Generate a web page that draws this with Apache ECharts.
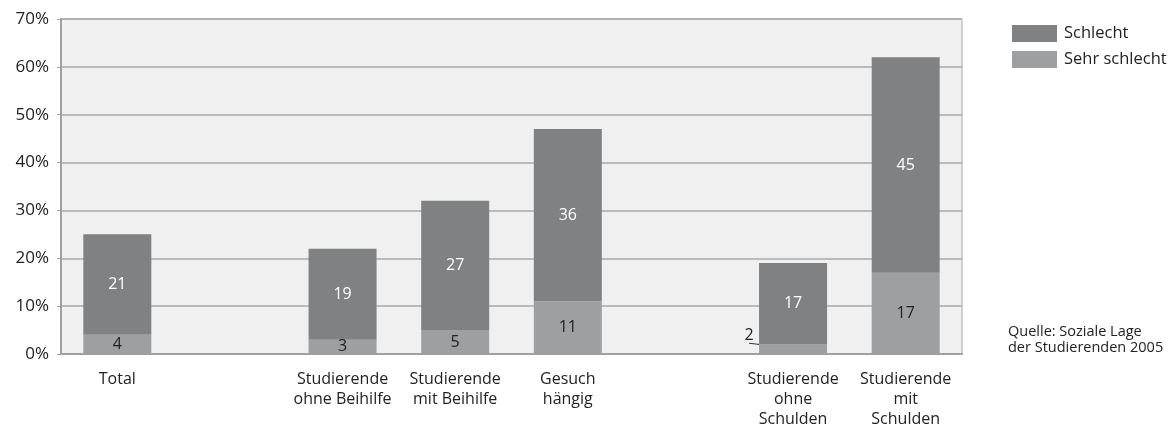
<!DOCTYPE html>
<html><head><meta charset="utf-8">
<script src="https://cdn.jsdelivr.net/npm/echarts@6/dist/echarts.min.js"></script>
<style>html,body{margin:0;padding:0;background:#fff}#c{width:1170px;height:429px}</style>
</head><body><div id="c"></div>
<script>
const categories = ['Total', '', 'Studierende\nohne Beihilfe', 'Studierende\nmit Beihilfe', 'Gesuch\nhängig', '', 'Studierende\nohne\nSchulden', 'Studierende\nmit\nSchulden'];
const sehrSchlecht = [4, null, 3, 5, 11, null, 2, 17];
const schlecht = [21, null, 19, 27, 36, null, 17, 45];
const yTicks = [0, 10, 20, 30, 40, 50, 60, 70];
const FONT = '"Open Sans", "Noto Sans", sans-serif';

const chart = echarts.init(document.getElementById('c'), null, {renderer: 'canvas'});
chart.setOption({
  animation: false,
  textStyle: {fontFamily: FONT},
  grid: {left: 61, right: 208, top: 19, bottom: 75, show: true, backgroundColor: '#eff0ef', borderColor: '#a8a8a8', borderWidth: 1},
  legend: {
    data: ['Schlecht', 'Sehr schlecht'], orient: 'vertical', left: 1007, top: 20,
    itemWidth: 45, itemHeight: 17, itemGap: 9, icon: 'rect',
    textStyle: {fontSize: 16.5, color: '#222', fontFamily: FONT, padding: [0, 0, 0, 2]}
  },
  xAxis: {
    type: 'category', data: categories,
    axisLine: {lineStyle: {color: '#a0a0a0', width: 2}},
    axisTick: {show: false},
    axisLabel: {fontSize: 16, color: '#222', interval: 0, lineHeight: 20, margin: 15, fontFamily: FONT}
  },
  yAxis: {
    type: 'value', min: yTicks[0], max: yTicks[yTicks.length - 1], interval: 10,
    axisLine: {show: true, lineStyle: {color: '#a0a0a0', width: 2}},
    axisTick: {show: true, length: 4, lineStyle: {color: '#a0a0a0', width: 1}},
    axisLabel: {fontSize: 17, color: '#222', formatter: '{value}%', margin: 12, fontFamily: FONT},
    splitLine: {lineStyle: {color: '#a8a8a8', width: 1.5}}
  },
  series: [
    {name: 'Sehr schlecht', type: 'bar', stack: 's', data: sehrSchlecht, barWidth: 68,
      itemStyle: {color: '#9e9fa1'},
      label: {show: true, position: 'inside', color: '#222', fontSize: 16, fontFamily: FONT},
      labelLine: {show: true, lineStyle: {color: '#333', width: 1}},
      labelLayout: function (p) { return p.dataIndex === 6 ? {dx: -44, dy: -14} : {}; }},
    {name: 'Schlecht', type: 'bar', stack: 's', data: schlecht, barWidth: 68,
      itemStyle: {color: '#808182'},
      label: {show: true, position: 'inside', color: '#fff', fontSize: 16, fontFamily: FONT}}
  ],
  graphic: [{
    type: 'text', left: 1008, top: 324,
    style: {text: 'Quelle: Soziale Lage\nder Studierenden 2005', fontSize: 14.5, lineHeight: 16, fill: '#222', fontFamily: FONT}
  }]
});
</script></body></html>
